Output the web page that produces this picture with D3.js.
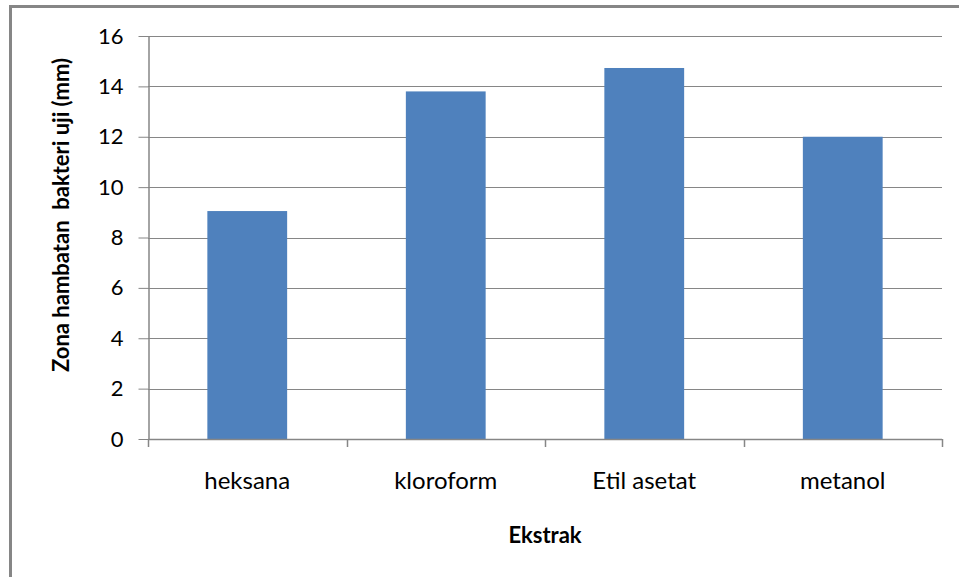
<!DOCTYPE html>
<html>
<head>
<meta charset="utf-8">
<script src="https://cdn.jsdelivr.net/npm/d3@7/dist/d3.min.js"></script>
<style>
  html, body { margin: 0; padding: 0; background: #fff; }
  svg { display: block; }
  text { font-family: Lato, "Open Sans", sans-serif; fill: #000; }
</style>
</head>
<body>
<svg id="chart" width="959" height="577"></svg>
<script>
const categories = ["heksana", "kloroform", "Etil asetat", "metanol"];
const values = [9.05, 13.8, 14.73, 12.0];
const yTicks = [0, 2, 4, 6, 8, 10, 12, 14, 16];
const xTitle = "Ekstrak";
const yTitle = "Zona hambatan  bakteri uji (mm)";

(function () {
const svg = d3.select("#chart");
const W = 959, H = 577;
const pLeft = 148, pRight = 942, pTop = 36, pBottom = 439;

svg.append("rect").attr("width", W).attr("height", H).attr("fill", "#fff");

// outer frame (partial, as in the reference)
svg.append("path")
  .attr("d", `M10.5,${H} L10.5,6.5 L${W},6.5`)
  .attr("fill", "none").attr("stroke", "#868686").attr("stroke-width", 3);

const x = d3.scaleBand().domain(categories).range([pLeft, pRight]).padding(0);
const y = d3.scaleLinear().domain([0, 16]).range([pBottom, pTop]);

// gridlines
svg.append("g").selectAll("line").data(yTicks.filter(d => d > 0)).join("line")
  .attr("x1", pLeft).attr("x2", pRight)
  .attr("y1", d => Math.round(y(d)) + 0.5).attr("y2", d => Math.round(y(d)) + 0.5)
  .attr("stroke", "#868686").attr("stroke-width", 1);

// bars
const barW = x.bandwidth() * 0.402;
svg.append("g").selectAll("rect").data(values).join("rect")
  .attr("x", (d, i) => x(categories[i]) + (x.bandwidth() - barW) / 2)
  .attr("width", barW)
  .attr("y", d => y(d))
  .attr("height", d => y(0) - y(d))
  .attr("fill", "#4F81BD");

// y axis
const yAxis = svg.append("g").attr("transform", `translate(${pLeft + 0.5},0)`)
  .call(d3.axisLeft(y).tickValues(yTicks).tickSize(10).tickPadding(15).tickSizeOuter(0));
yAxis.select(".domain").attr("stroke", "#868686").attr("stroke-width", 1.5);
yAxis.selectAll(".tick line").attr("stroke", "#868686");
yAxis.selectAll(".tick text").attr("font-size", 22).attr("font-family", "Lato, sans-serif").attr("fill", "#000");

// x axis line + ticks at category boundaries
const xAxisG = svg.append("g");
xAxisG.append("line").attr("x1", pLeft).attr("x2", pRight)
  .attr("y1", Math.round(y(0)) + 0.5).attr("y2", Math.round(y(0)) + 0.5)
  .attr("stroke", "#868686").attr("stroke-width", 1.5);
const bounds = categories.map(c => x(c)).concat([x(categories[categories.length - 1]) + x.bandwidth()]);
xAxisG.selectAll("line.tk").data(bounds).join("line").attr("class", "tk")
  .attr("x1", d => Math.round(d) + 0.5).attr("x2", d => Math.round(d) + 0.5)
  .attr("y1", pBottom).attr("y2", pBottom + 8)
  .attr("stroke", "#868686").attr("stroke-width", 1.5);
xAxisG.selectAll("text").data(categories).join("text")
  .attr("x", d => x(d) + x.bandwidth() / 2)
  .attr("y", 489)
  .attr("text-anchor", "middle")
  .attr("font-size", 24)
  .text(d => d);

// titles
svg.append("text")
  .attr("x", (pLeft + pRight) / 2).attr("y", 543)
  .attr("text-anchor", "middle").attr("font-size", 22).attr("font-weight", "bold")
  .text(xTitle);

svg.append("text")
  .attr("transform", "translate(69,215) rotate(-90)")
  .attr("text-anchor", "middle").attr("font-size", 22).attr("font-weight", "bold")
  .style("white-space", "pre")
  .text(yTitle);
})();
</script>
</body>
</html>
